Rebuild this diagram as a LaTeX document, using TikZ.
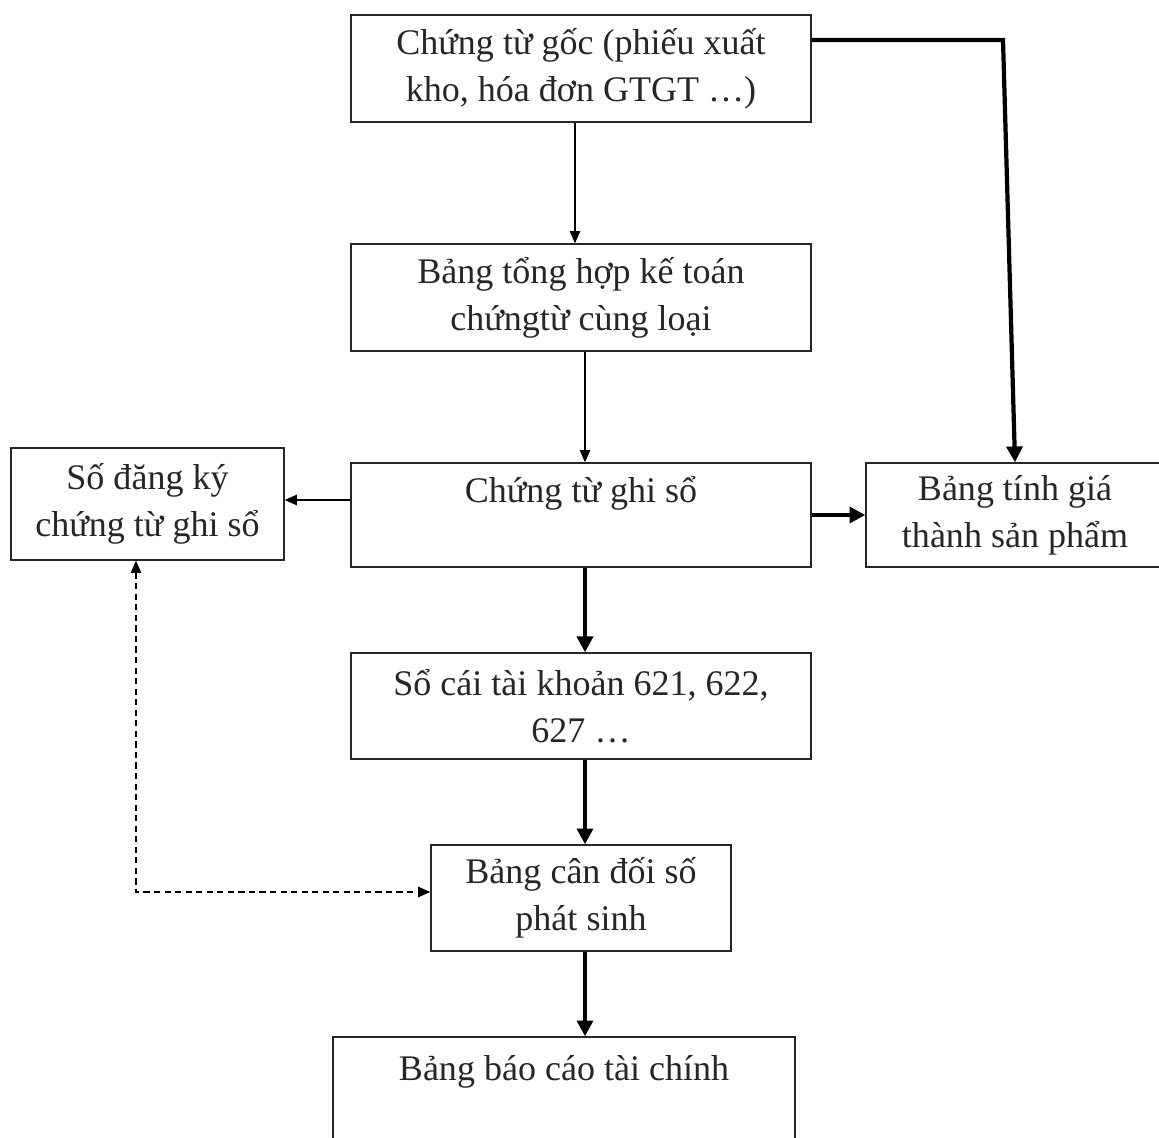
\documentclass[tikz,border=0pt]{standalone}
\usepackage{fontspec}
\setmainfont{Liberation Serif}
\usetikzlibrary{arrows.meta}
\begin{document}
\begin{tikzpicture}[x=0.02cm,y=-0.02cm,
  txt/.style={font=\fontsize{20.5}{26.6}\selectfont,text=black!85,align=center},
  box/.style={draw=black!85,line width=0.8pt,rectangle,inner sep=0pt,txt},
  lightarrow/.style={line width=0.6pt,-{Triangle[length=7pt,width=6pt]}},
  heavyarrow/.style={line width=2.4pt,-{Triangle[length=9pt,width=9pt]}},
  dasharrow/.style={line width=0.7pt,dash pattern=on 3.5pt off 2.5pt,
    {Triangle[length=7pt,width=6pt]}-{Triangle[length=7pt,width=6pt]}}]
\useasboundingbox (0,0) rectangle (1159,1138);

% boxes
\node[box,minimum width=9.2cm,minimum height=2.14cm] (src) at (581,68.5)
  {Chứng từ gốc (phiếu xuất\\kho, hóa đơn GTGT …)};
\node[box,minimum width=9.2cm,minimum height=2.14cm] (sum) at (581,297.5)
  {Bảng tổng hợp kế toán\\chứngtừ cùng loại};
\node[box,minimum width=9.2cm,minimum height=2.08cm] (voucher) at (581,515) {};
\node[txt,anchor=base] (vouchertext) at (581,502) {Chứng từ ghi sổ};
\node[box,minimum width=5.46cm,minimum height=2.24cm] (register) at (147.5,504)
  {Số đăng ký\\chứng từ ghi sổ};
\node[box,minimum width=5.96cm,minimum height=2.08cm] (cost) at (1015,515)
  {Bảng tính giá\\thành sản phẩm};
\node[box,minimum width=9.2cm,minimum height=2.12cm] (ledger) at (581,706)
  {Sổ cái tài khoản 621, 622,\\627 …};
\node[box,minimum width=6.0cm,minimum height=2.12cm] (trial) at (581,898)
  {Bảng cân đối số\\phát sinh};
\node[box,minimum width=9.24cm,minimum height=2.46cm] (report) at (564,1098.5) {};
\node[txt,anchor=base] (reporttext) at (564,1080) {Bảng báo cáo tài chính};

% connectors
\draw[lightarrow] (src.south -| 575,0) -- (sum.north -| 575,0);
\draw[lightarrow] (sum.south -| 585,0) -- (voucher.north -| 585,0);
\draw[lightarrow] (voucher.west |- 0,500) -- (register.east |- 0,500);
\draw[heavyarrow] (voucher.east) -- (cost.west);
\coordinate (bend) at (1003,40);
\draw[heavyarrow] (src.east |- bend) -- (bend) -- (cost.north);
\draw[heavyarrow] (voucher.south -| 585,0) -- (ledger.north -| 585,0);
\draw[heavyarrow] (ledger.south -| 585,0) -- (trial.north -| 585,0);
\draw[heavyarrow] (trial.south -| 585,0) -- (report.north -| 585,0);
\coordinate (corner) at (136,892);
\draw[dasharrow] (register.south -| corner) -- (corner) -- (trial.west |- corner);
\end{tikzpicture}
\end{document}
